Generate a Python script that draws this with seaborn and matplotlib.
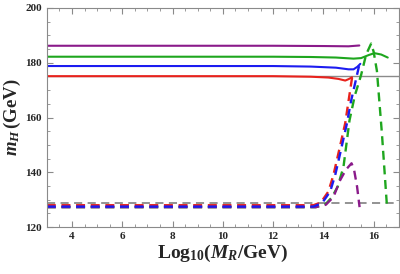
import matplotlib
matplotlib.use('Agg')
import matplotlib.pyplot as plt
import numpy as np
import pandas as pd
import seaborn as sns
from matplotlib.ticker import MultipleLocator

sns.set_style('ticks')
plt.rcParams['font.family'] = ['Liberation Serif', 'DejaVu Serif']
plt.rcParams['font.weight'] = 'bold'
plt.rcParams['mathtext.fontset'] = 'custom'
plt.rcParams['mathtext.rm'] = 'Liberation Serif:bold'
plt.rcParams['mathtext.it'] = 'Liberation Serif:bold:italic'
plt.rcParams['mathtext.bf'] = 'Liberation Serif:bold'

# solid curves
red_x = [3, 12, 13.5, 14.2, 14.6, 14.87, 15.0, 15.14]
red_y = [175.1, 175.1, 174.9, 174.6, 174.1, 173.5, 174.0, 174.7]
blue_x = [3, 12, 13.5, 14.5, 15.0, 15.2, 15.35, 15.47]
blue_y = [178.8, 178.8, 178.6, 178.2, 177.6, 177.6, 178.5, 179.6]
green_x = [3, 12, 13.5, 14.5, 15.2, 15.5, 15.8, 16.03, 16.3, 16.56]
green_y = [182.2, 182.2, 182.1, 181.9, 181.5, 181.7, 182.8, 183.5, 183.0, 181.9]
purple_x = [3, 12, 14, 15, 15.43]
purple_y = [186.2, 186.2, 186.1, 186.0, 186.3]

# dashed curves
red_dx = [3, 13.6, 13.9, 14.2, 14.4, 14.6, 14.87, 15.0, 15.14]
red_dy = [128.0, 128.0, 129.0, 133.0, 139.0, 147.0, 158.0, 166.0, 174.5]
blue_dx = [3, 13.6, 13.95, 14.27, 14.47, 14.67, 14.94, 15.1, 15.25, 15.43]
blue_dy = [127.5, 127.5, 128.8, 133.0, 139.0, 147.0, 158.0, 166.0, 172.0, 179.3]
green_dx = [3, 13.7, 14.1, 14.34, 14.57, 14.8, 15.04, 15.25, 15.5, 15.7, 15.9,
            16.0, 16.13, 16.33, 16.53]
green_dy = [127.3, 127.3, 128.5, 130.9, 134.8, 142.0, 159.0, 168.0, 175.5, 183.0, 187.0,
            184.0, 177.0, 154.0, 127.5]
purple_dx = [3, 13.7, 14.1, 14.4, 14.67, 14.9, 15.12, 15.22, 15.34, 15.44]
purple_dy = [127.3, 127.3, 128.2, 131.0, 137.2, 141.0, 143.3, 141.0, 134.8, 127.3]

gray_solid_y = 175.0
gray_dashed_y = 128.9

RED = '#e8221c'
BLUE = '#1c1cf0'
GREEN = '#1ea61e'
PURPLE = '#8a1a8a'
GRAY = '#8a8a8a'

fig = plt.figure(figsize=(4.0, 2.74), dpi=100)
ax = fig.add_axes([0.117, 0.171, 0.88, 0.80])

ax.axhline(gray_solid_y, color=GRAY, lw=1.0, zorder=1)
ax.axhline(gray_dashed_y, color=GRAY, lw=1.3, ls=(0, (4.5, 3.0)), zorder=1)

for xs, ys, c in [(red_x, red_y, RED), (blue_x, blue_y, BLUE),
                  (green_x, green_y, GREEN), (purple_x, purple_y, PURPLE)]:
    sns.lineplot(x=xs, y=ys, color=c, lw=1.5, sort=False, estimator=None, ax=ax)

for xs, ys, c in [(green_dx, green_dy, GREEN), (purple_dx, purple_dy, PURPLE),
                  (red_dx, red_dy, RED), (blue_dx, blue_dy, BLUE)]:
    sns.lineplot(x=xs, y=ys, color=c, lw=1.7, sort=False, estimator=None, ax=ax,
                 linestyle=(0, (3.8, 2.4)))

ax.set_xlim(3, 17)
ax.set_ylim(120, 200)
ax.xaxis.set_major_locator(MultipleLocator(2))
ax.xaxis.set_minor_locator(MultipleLocator(0.5))
ax.yaxis.set_major_locator(MultipleLocator(20))
ax.yaxis.set_minor_locator(MultipleLocator(5))
ax.tick_params(which='both', direction='in', top=True, right=True, color=GRAY,
               labelsize=8)
ax.tick_params(which='major', length=4, width=0.8)
ax.tick_params(which='minor', length=2, width=0.6)
for sp in ax.spines.values():
    sp.set_color(GRAY)
    sp.set_linewidth(0.8)

ax.set_xlabel(r'$\mathrm{Log}_{10}(M_R/\mathrm{GeV})$', fontsize=14, labelpad=1)
ax.set_ylabel(r'$m_H\,\mathrm{(GeV)}$', fontsize=13.5, labelpad=2)

fig.savefig('out.png', dpi=100)
